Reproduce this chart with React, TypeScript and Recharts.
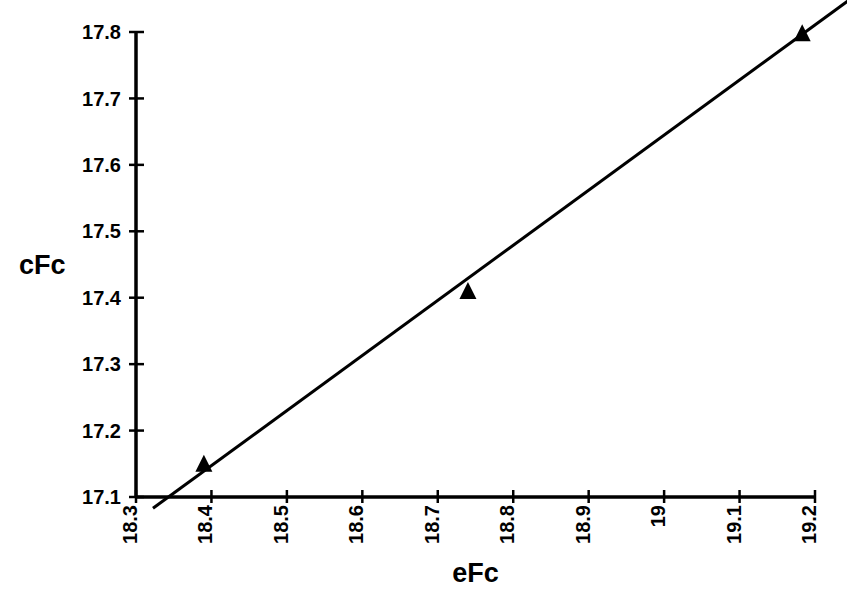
import {
  ReferenceLine,
  Scatter,
  ScatterChart,
  XAxis,
  YAxis,
} from "recharts";

const efc = [18.39, 18.74, 19.183];
const cfc = [17.15, 17.41, 17.798];
const fitX = [18.3225, 19.245];
const fitY = [17.083, 17.848];
const xTicks = [18.3, 18.4, 18.5, 18.6, 18.7, 18.8, 18.9, 19, 19.1, 19.2];
const yTicks = [17.1, 17.2, 17.3, 17.4, 17.5, 17.6, 17.7, 17.8];

const font = "'Liberation Sans', Arial, sans-serif";

const points = efc.map((x, i) => ({ x, y: cfc[i] }));

function Triangle(props: any) {
  const { cx, cy } = props;
  return (
    <polygon
      points={`${cx},${cy - 9} ${cx + 8.5},${cy + 8} ${cx - 8.5},${cy + 8}`}
      fill="#000"
    />
  );
}

function XTick(props: any) {
  const { x, y, payload } = props;
  return (
    <g transform={`translate(${x},${y})`}>
      <line x1={0} y1={-7} x2={0} y2={6} stroke="#000" strokeWidth={2.5} />
      <text
        transform="rotate(-90)"
        x={-8}
        y={1}
        textAnchor="end"
        fontFamily={font}
        fontWeight="bold"
        fontSize={20}
        fill="#000"
      >
        {String(payload.value)}
      </text>
    </g>
  );
}

function YTick(props: any) {
  const { x, y, payload } = props;
  return (
    <g transform={`translate(${x},${y})`}>
      <line x1={-7} y1={0} x2={8} y2={0} stroke="#000" strokeWidth={2.5} />
      <text
        x={-15}
        y={0}
        dy="0.36em"
        textAnchor="end"
        fontFamily={font}
        fontWeight="bold"
        fontSize={20}
        fill="#000"
      >
        {payload.value.toFixed(1)}
      </text>
    </g>
  );
}

const labelStyle = {
  fontFamily: font,
  fontWeight: "bold",
  fontSize: 27,
  fill: "#000",
};

export default function App() {
  return (
    <div style={{ position: "absolute", left: 0, top: 0, background: "#fff" }}>
      <ScatterChart
        width={847}
        height={589}
        margin={{ top: 32, right: 32, bottom: 0, left: 0 }}
      >
        <XAxis
          type="number"
          dataKey="x"
          domain={[18.3, 19.2]}
          ticks={xTicks}
          interval={0}
          height={92}
          tickSize={0}
          tickMargin={0}
          tickLine={false}
          tick={<XTick />}
          axisLine={{ stroke: "#000", strokeWidth: 3.5 }}
          label={{
            value: "eFc",
            position: "insideBottom",
            offset: 7,
            style: labelStyle,
          }}
        />
        <YAxis
          type="number"
          dataKey="y"
          domain={[17.1, 17.8]}
          ticks={yTicks}
          interval={0}
          width={136}
          tickSize={0}
          tickMargin={0}
          tickLine={false}
          tick={<YTick />}
          axisLine={{ stroke: "#000", strokeWidth: 3.5 }}
          label={{
            value: "cFc",
            position: "insideLeft",
            offset: 19,
            style: labelStyle,
          }}
        />
        <ReferenceLine
          segment={[
            { x: fitX[0], y: fitY[0] },
            { x: fitX[1], y: fitY[1] },
          ]}
          ifOverflow="visible"
          stroke="#000"
          strokeWidth={3}
        />
        <Scatter
          data={points}
          shape={<Triangle />}
          isAnimationActive={false}
        />
      </ScatterChart>
    </div>
  );
}
